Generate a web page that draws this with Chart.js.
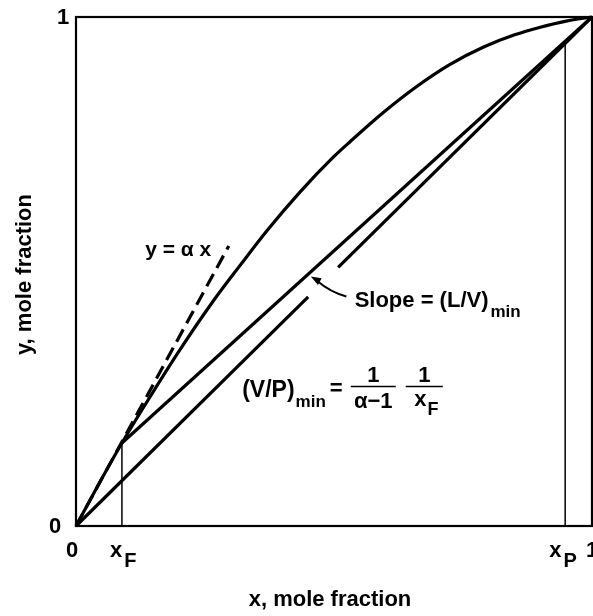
<!DOCTYPE html>
<html lang="en">
<head>
    <meta charset="UTF-8">
    <title>Minimum reflux, x-y diagram</title>
    <script src="https://cdn.jsdelivr.net/npm/chart.js"></script>
    <style>
        body {
            margin: 0;
            background: white;
        }

        #chart-box {
            width: 593px;
            height: 616px;
        }
    </style>
</head>
<body>
    <div id="chart-box">
        <canvas id="xyChart"></canvas>
    </div>
    <script>
        // equilibrium curve
        const eqX = [0, 0.045, 0.089, 0.14, 0.2, 0.266, 0.318, 0.37, 0.434, 0.5, 0.531, 0.595, 0.661, 0.725, 0.79, 0.85, 0.9, 0.95, 1];
        const eqY = [0, 0.084, 0.163, 0.248, 0.344, 0.442, 0.512, 0.58, 0.656, 0.726, 0.755, 0.812, 0.864, 0.907, 0.941, 0.965, 0.98, 0.992, 1];

        // feed and product compositions
        const xF = 0.089;
        const yF = 0.163;
        const xP = 0.948;

        // diagonal y = x, drawn in two pieces (gap where the arrow points)
        const diagLowX = [0, 0.45];
        const diagHighX = [0.508, 1];

        // operating line at minimum reflux (pinch at the feed)
        const opX = [xF, 1];
        const opY = [yF, 1];

        // dashed tangent y = alpha x
        const alphaX = [0, 0.296];
        const alphaY = [0, 0.55];

        // tick labels on the axes
        const xTickValues = [0, xF, xP, 1];
        const xTickText = ['0', 'x', 'x', '1'];
        const xTickSub = ['', 'F', 'P', ''];
        const yTickValues = [0, 1];
        const yTickText = ['0', '1'];

        const FONT = '"Liberation Sans", Arial, sans-serif';

        function toPoints(xs, ys) {
            return xs.map((x, i) => ({ x: x, y: ys[i] }));
        }

        function lineSet(xs, ys, width, extra) {
            return Object.assign({
                data: toPoints(xs, ys),
                showLine: true,
                borderColor: 'black',
                borderWidth: width,
                pointRadius: 0,
                fill: false,
                clip: false
            }, extra || {});
        }

        // text with an optional subscript, returns the x where it ends
        function drawSub(ctx, main, sub, x, y, size, subSize, align, gap) {
            gap = gap || 0;
            ctx.font = 'bold ' + size + 'px ' + FONT;
            const w1 = ctx.measureText(main).width + gap;
            ctx.font = 'bold ' + subSize + 'px ' + FONT;
            const w2 = sub ? ctx.measureText(sub).width : 0;
            let start = x;
            if (align === 'center') start = x - (w1 + w2) / 2;
            if (align === 'right') start = x - (w1 + w2);
            ctx.textAlign = 'left';
            ctx.textBaseline = 'alphabetic';
            ctx.font = 'bold ' + size + 'px ' + FONT;
            ctx.fillText(main, start, y);
            if (sub) {
                ctx.font = 'bold ' + subSize + 'px ' + FONT;
                ctx.fillText(sub, start + w1, y + size * 0.45);
            }
            return start + w1 + w2;
        }

        const framePlugin = {
            id: 'frame',
            afterDraw(chart) {
                const ctx = chart.ctx;
                const xs = chart.scales.x;
                const ys = chart.scales.y;
                const a = chart.chartArea;
                ctx.save();
                ctx.fillStyle = 'black';
                ctx.strokeStyle = 'black';

                // box around the plot
                ctx.lineWidth = 2.2;
                ctx.strokeRect(a.left, a.top, a.right - a.left, a.bottom - a.top);

                // x tick labels
                xTickValues.forEach((v, i) => {
                    const px = xs.getPixelForValue(v);
                    if (xTickSub[i]) {
                        const shift = xTickSub[i] === 'P' ? 16 : 12;
                        drawSub(ctx, xTickText[i], xTickSub[i], px - shift, a.bottom + 31, 22, 20, 'left', 2);
                    } else {
                        ctx.font = 'bold 22px ' + FONT;
                        ctx.textAlign = 'center';
                        ctx.textBaseline = 'alphabetic';
                        ctx.fillText(xTickText[i], px + (v === 0 ? -4 : 0), a.bottom + 31);
                    }
                });

                // y tick labels
                yTickValues.forEach((v, i) => {
                    const py = ys.getPixelForValue(v);
                    ctx.font = 'bold 22px ' + FONT;
                    ctx.textAlign = 'center';
                    ctx.textBaseline = 'middle';
                    const cx = v === 0 ? a.left - 21 : a.left - 13;
                    ctx.fillText(yTickText[i], cx, py + 1);
                });

                // axis titles
                ctx.font = 'bold 22px ' + FONT;
                ctx.textAlign = 'center';
                ctx.textBaseline = 'middle';
                ctx.fillText('x, mole fraction', (a.left + a.right) / 2 - 4, 600);
                ctx.save();
                ctx.translate(25, (a.top + a.bottom) / 2 + 3);
                ctx.rotate(-Math.PI / 2);
                ctx.fillText('y, mole fraction', 0, 0);
                ctx.restore();

                // y = alpha x
                ctx.font = 'bold 21px ' + FONT;
                ctx.textAlign = 'left';
                ctx.textBaseline = 'alphabetic';
                ctx.fillText('y = \u03b1 x', xs.getPixelForValue(0.134), ys.getPixelForValue(0.53));

                // Slope = (L/V)min
                drawSub(ctx, 'Slope = (L/V)', 'min', xs.getPixelForValue(0.54), ys.getPixelForValue(0.43), 22, 17, 'left', 2);

                // arrow to the operating line
                const tailX = xs.getPixelForValue(0.524);
                const tailY = ys.getPixelForValue(0.451);
                const tipX = xs.getPixelForValue(0.455);
                const tipY = ys.getPixelForValue(0.49);
                ctx.lineWidth = 2;
                ctx.beginPath();
                ctx.moveTo(tailX, tailY);
                ctx.quadraticCurveTo(tailX - 16, tailY - 4, tipX + 6, tipY + 4);
                ctx.stroke();
                const ang = Math.atan2(-5, -9);
                ctx.beginPath();
                ctx.moveTo(tipX, tipY);
                ctx.lineTo(tipX - 11 * Math.cos(ang - 0.35), tipY - 11 * Math.sin(ang - 0.35));
                ctx.lineTo(tipX - 11 * Math.cos(ang + 0.35), tipY - 11 * Math.sin(ang + 0.35));
                ctx.closePath();
                ctx.fill();

                // (V/P)min = 1/(alpha-1) 1/xF
                const fx = xs.getPixelForValue(0.322);
                const barY = ys.getPixelForValue(0.274);
                const endX = drawSub(ctx, '(V/P)', 'min', fx, barY + 10, 23, 17, 'left', 1);
                ctx.font = 'bold 22px ' + FONT;
                ctx.textAlign = 'left';
                ctx.fillText('=', endX + 4, barY + 8);

                ctx.lineWidth = 1.5;
                const b1 = [endX + 25, endX + 70];
                const b2 = [endX + 80, endX + 117];
                ctx.beginPath();
                ctx.moveTo(b1[0], barY); ctx.lineTo(b1[1], barY);
                ctx.moveTo(b2[0], barY); ctx.lineTo(b2[1], barY);
                ctx.stroke();
                ctx.textAlign = 'center';
                ctx.fillText('1', (b1[0] + b1[1]) / 2, barY - 5);
                ctx.fillText('\u03b1\u22121', (b1[0] + b1[1]) / 2, barY + 21);
                ctx.fillText('1', (b2[0] + b2[1]) / 2, barY - 5);
                drawSub(ctx, 'x', 'F', (b2[0] + b2[1]) / 2 + 2, barY + 19, 22, 18, 'center', 1);

                ctx.restore();
            }
        };

        const config = {
            type: 'scatter',
            data: {
                datasets: [
                    lineSet(eqX, eqY, 3.2, { cubicInterpolationMode: 'monotone' }),
                    lineSet(diagLowX, diagLowX, 3.2),
                    lineSet(diagHighX, diagHighX, 3.2),
                    lineSet(opX, opY, 3.2),
                    lineSet(alphaX, alphaY, 3.2, { borderDash: [14, 7] }),
                    lineSet([xF, xF], [0, yF], 1.5),
                    lineSet([xP, xP], [0, xP], 1.5)
                ]
            },
            options: {
                responsive: false,
                animation: false,
                layout: {
                    padding: { left: 76, right: 1, top: 17, bottom: 90 }
                },
                scales: {
                    x: { type: 'linear', min: 0, max: 1, display: false },
                    y: { type: 'linear', min: 0, max: 1, display: false }
                },
                plugins: {
                    legend: { display: false },
                    tooltip: { enabled: false }
                }
            },
            plugins: [framePlugin]
        };

        window.onload = () => {
            const canvas = document.getElementById('xyChart');
            canvas.width = 593;
            canvas.height = 616;
            new Chart(canvas.getContext('2d'), config);
        };
    </script>
</body>
</html>
